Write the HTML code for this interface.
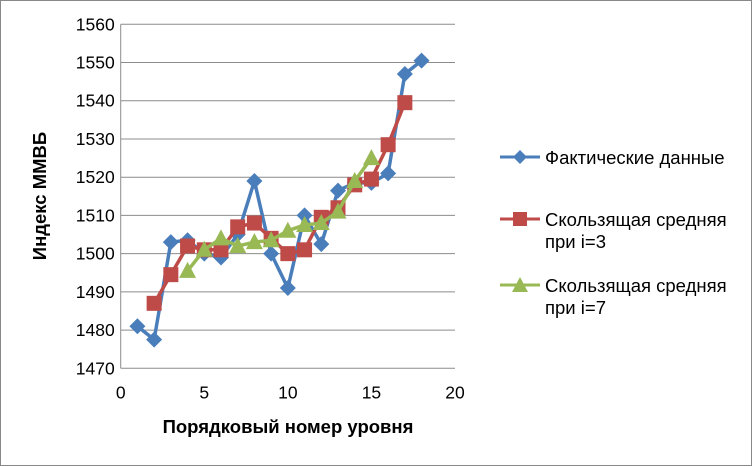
<!DOCTYPE html>
<html><head><meta charset="utf-8"><style>
body{margin:0;background:#fff;}
svg{display:block;font-family:"Liberation Sans",sans-serif;}
</style></head><body>
<svg id="c" width="752" height="466">
<rect x="0.5" y="0.5" width="751" height="465" fill="#fff" stroke="#888"/>
<g id="grid"></g><g id="series"></g>
<text x="288" y="433" font-size="18.5" font-weight="bold" text-anchor="middle">Порядковый номер уровня</text>
<text transform="translate(46,196) rotate(-90)" font-size="18.5" font-weight="bold" text-anchor="middle">Индекс ММВБ</text>
<g font-size="18.5">
 <g>
  <line x1="500" y1="157" x2="540" y2="157" stroke="#4a7ebb" stroke-width="3"/>
  <path d="M520 150 L527 157 L520 164 L513 157Z" fill="#4a7ebb"/>
  <text x="545" y="164">Фактические данные</text></g>
 <g>
  <line x1="500" y1="219" x2="540" y2="219" stroke="#be4b48" stroke-width="3"/>
  <rect x="513" y="212" width="14" height="14" fill="#be4b48"/>
  <text x="545" y="226">Скользящая средняя</text><text x="545" y="248">при i=3</text></g>
 <g>
  <line x1="500" y1="285" x2="540" y2="285" stroke="#98b954" stroke-width="3"/>
  <path d="M520 277 L528 292 L512 292Z" fill="#98b954"/>
  <text x="545" y="292">Скользящая средняя</text><text x="545" y="314">при i=7</text></g>
</g>
</svg>
<script>
const yTicks=[1470,1480,1490,1500,1510,1520,1530,1540,1550,1560];
const xTicks=[0,5,10,15,20];
const actualX=[1,2,3,4,5,6,7,8,9,10,11,12,13,14,15,16,17,18];
const actualY=[1481,1477.5,1503,1503.5,1500,1499,1505,1519,1500,1491,1510,1502.5,1516.5,1518.5,1518.5,1521,1547,1550.5];
const ma3X=[2,3,4,5,6,7,8,9,10,11,12,13,14,15,16,17];
const ma3Y=[1487,1494.5,1502,1501,1501,1507,1508,1504,1500,1501,1509.5,1512,1518,1519.5,1528.5,1539.5];
const ma7X=[4,5,6,7,8,9,10,11,12,13,14,15];
const ma7Y=[1495.5,1501,1504,1502,1503,1503.5,1506,1507.5,1508,1511,1519,1525];
const NS="http://www.w3.org/2000/svg";
const X=v=>120.7+(v-0)*(455-120.7)/20;
const Y=v=>368.3-(v-1470)*(368.3-24.3)/90;
function mk(t,a,p){const e=document.createElementNS(NS,t);for(const k in a)e.setAttribute(k,a[k]);p.appendChild(e);return e;}
const g=document.getElementById('grid');
yTicks.forEach(v=>{
 const l=mk('line',{x1:X(0),x2:X(20),y1:Y(v),y2:Y(v),stroke:'#8c8c8c','stroke-width':1},g);
 
 
 const t=mk('text',{x:X(0)-6,y:Y(v)+6,'font-size':17.5,'text-anchor':'end'},g);t.textContent=v;
 
 
});
const ax=mk('line',{x1:X(0),x2:X(0),y1:Y(1560),y2:Y(1470),stroke:'#8c8c8c'},g);


xTicks.forEach(v=>{
 const t=mk('text',{x:X(v),y:Y(1470)+30,'font-size':17.5,'text-anchor':'middle'},g);t.textContent=v;
 
 
});
const s=document.getElementById('series');
function series(xs,ys,col,shape,name){
 const gg=mk('g',{},s);
 
 
 mk('polyline',{points:xs.map((x,i)=>X(x)+','+Y(ys[i])).join(' '),fill:'none',stroke:col,'stroke-width':3.5,'stroke-linejoin':'round'},gg);
 xs.forEach((x,i)=>{const cx=X(x),cy=Y(ys[i]);let m;
  if(shape==='d')m=mk('path',{d:`M${cx} ${cy-8}L${cx+8} ${cy}L${cx} ${cy+8}L${cx-8} ${cy}Z`,fill:col},gg);
  else if(shape==='s')m=mk('rect',{x:cx-7.5,y:cy-7.5,width:15,height:15,fill:col},gg);
  else m=mk('path',{d:`M${cx} ${cy-9}L${cx+8.5} ${cy+7}L${cx-8.5} ${cy+7}Z`,fill:col},gg);
  
  
 });
}
series(actualX,actualY,'#4a7ebb','d','series-actual');
series(ma3X,ma3Y,'#be4b48','s','series-ma3');
series(ma7X,ma7Y,'#98b954','t','series-ma7');
</script>
</body></html>
